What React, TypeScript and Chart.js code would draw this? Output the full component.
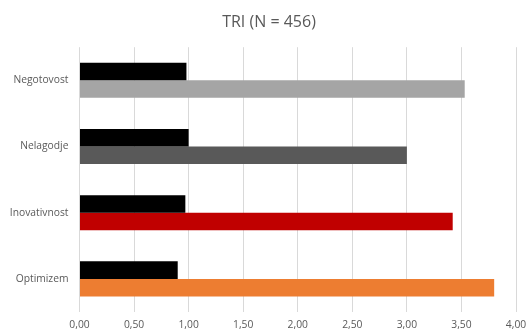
import React, { useEffect, useRef } from "react";
import { Chart, registerables } from "chart.js";

Chart.register(...registerables);

const categories = ["Negotovost", "Nelagodje", "Inovativnost", "Optimizem"];
const blackValues = [0.98, 1.0, 0.97, 0.9];
const colorValues = [3.53, 3.0, 3.42, 3.8];
const colorBarColors = ["#a5a5a5", "#595959", "#c00000", "#ed7d31"];
const titleText = "TRI (N = 456)";
const xMin = 0;
const xMax = 4;
const xStep = 0.5;

export default function App() {
  const ref = useRef<HTMLCanvasElement | null>(null);

  useEffect(() => {
    document.body.style.margin = "0";
    if (!ref.current) return;
    const font = "'Open Sans', sans-serif";
    const chart = new Chart(ref.current, {
      type: "bar",
      data: {
        labels: categories,
        datasets: [
          {
            label: "A",
            data: blackValues,
            backgroundColor: "#000000",
            categoryPercentage: 0.53,
            barPercentage: 1,
          },
          {
            label: "B",
            data: colorValues,
            backgroundColor: colorBarColors,
            categoryPercentage: 0.53,
            barPercentage: 1,
          },
        ],
      },
      options: {
        indexAxis: "y",
        animation: false,
        responsive: false,
        maintainAspectRatio: false,
        layout: { padding: { left: 10, right: 0, top: 0, bottom: 0 } },
        plugins: {
          legend: { display: false },
          tooltip: { enabled: false },
          title: {
            display: true,
            text: titleText,
            color: "#595959",
            font: { family: font, size: 16, weight: "normal" },
            padding: { top: 13, bottom: 15 },
          },
        },
        scales: {
          x: {
            min: xMin,
            max: xMax,
            border: { display: false },
            grid: { color: "#d9d9d9", drawTicks: false, lineWidth: 1 },
            ticks: {
              stepSize: xStep,
              color: "#595959",
              font: { family: font, size: 10.3 },
              padding: 7,
              callback: (v: any) => Number(v).toFixed(2).replace(".", ","),
            },
            afterFit: (s: any) => {
              s.height = 21;
              s.paddingLeft = 0;
              s.paddingRight = 12;
            },
          },
          y: {
            border: { display: false },
            grid: { display: false, drawTicks: false },
            ticks: {
              color: "#595959",
              font: { family: font, size: 10.3 },
              padding: 11,
            },
            afterFit: (s: any) => {
              s.width = 69.5;
            },
          },
        },
      },
    });
    return () => chart.destroy();
  }, []);

  return (
    <div style={{ width: 528, height: 333 }}>
      <canvas ref={ref} width={528} height={333} style={{ display: "block" }} />
    </div>
  );
}
